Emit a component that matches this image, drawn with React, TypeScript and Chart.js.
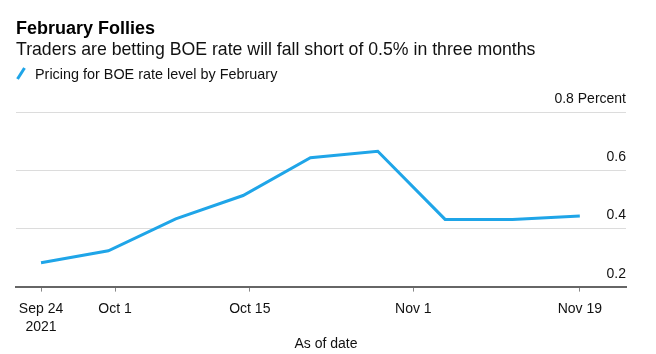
import React, { useEffect, useRef } from "react";
import { Chart, registerables } from "chart.js";

Chart.register(...registerables);

const titleText = "February Follies";
const subtitleText = "Traders are betting BOE rate will fall short of 0.5% in three months";
const legendText = "Pricing for BOE rate level by February";
const xAxisTitle = "As of date";

// days since Sep 24 2021 (weekly observations)
const dayOffsets = [0, 7, 14, 21, 28, 35, 42, 49, 56];
const pricing = [0.282, 0.323, 0.433, 0.513, 0.643, 0.665, 0.431, 0.431, 0.443];

// tick positions (days since Sep 24)
const xTickDays = [0, 7.7, 21.7, 38.7, 56];
const xTickLabels: (string | string[])[] = [["Sep 24", "2021"], "Oct 1", "Oct 15", "Nov 1", "Nov 19"];
const yTicks = [0.2, 0.4, 0.6, 0.8];
const yUnit = "Percent";

const FONT = "'Liberation Sans', Arial, sans-serif";
const LINE_COLOR = "#1fa5e8";

export default function App() {
  const ref = useRef<HTMLCanvasElement | null>(null);

  useEffect(() => {
    document.body.style.margin = "0";
    const canvas = ref.current;
    if (!canvas) return;

    const headerPlugin = {
      id: "header",
      afterDraw(chart: any) {
        const ctx = chart.ctx;
        ctx.save();
        ctx.textAlign = "left";
        ctx.textBaseline = "alphabetic";
        ctx.fillStyle = "#000";
        ctx.font = `bold 18px ${FONT}`;
        ctx.fillText(titleText, 16, 34);
        ctx.fillStyle = "#111";
        ctx.font = `17.7px ${FONT}`;
        ctx.fillText(subtitleText, 16, 55);
        ctx.font = `14.4px ${FONT}`;
        ctx.fillText(legendText, 35, 79);
        ctx.strokeStyle = LINE_COLOR;
        ctx.lineWidth = 3;
        ctx.lineCap = "butt";
        ctx.beginPath();
        ctx.moveTo(17.5, 79);
        ctx.lineTo(24.5, 68);
        ctx.stroke();

        // y labels above gridlines, right-aligned
        const y = chart.scales.y;
        const area = chart.chartArea;
        ctx.textAlign = "right";
        ctx.fillStyle = "#111";
        ctx.font = `14px ${FONT}`;
        yTicks.forEach((v, i) => {
          const py = y.getPixelForValue(v);
          const label = i === yTicks.length - 1 ? `${v.toFixed(1)} ${yUnit}` : v.toFixed(1);
          ctx.fillText(label, area.right, py - 9);
        });

        // x axis title
        ctx.textAlign = "center";
        ctx.textBaseline = "middle";
        ctx.fillText(xAxisTitle, 326, 344);
        ctx.restore();
      },
    };

    const chart = new Chart(canvas, {
      type: "line",
      data: {
        datasets: [
          {
            data: dayOffsets.map((d, i) => ({ x: d, y: pricing[i] })),
            borderColor: LINE_COLOR,
            borderWidth: 3,
            pointRadius: 0,
            tension: 0,
            fill: false,
          },
        ],
      },
      options: {
        animation: false,
        responsive: false,
        maintainAspectRatio: false,
        layout: { padding: { left: 16, right: 30, top: 112, bottom: 10 } },
        plugins: { legend: { display: false }, title: { display: false }, tooltip: { enabled: false } },
        scales: {
          x: {
            type: "linear",
            min: -2.6,
            max: 60.8,
            afterBuildTicks: (scale: any) => {
              scale.ticks = xTickDays.map((v) => ({ value: v }));
            },
            ticks: {
              autoSkip: false,
              maxRotation: 0,
              color: "#111",
              font: { family: FONT, size: 14, lineHeight: 1.3 },
              padding: 8,
              callback: (value: any) => {
                const idx = xTickDays.indexOf(Number(value));
                return idx >= 0 ? xTickLabels[idx] : "";
              },
            },
            grid: {
              drawOnChartArea: false,
              drawTicks: true,
              tickLength: 5,
              color: "#888",
              lineWidth: 1,
            },
            border: { display: true, color: "#666", width: 2 },
            title: { display: false },
          },
          y: {
            type: "linear",
            min: 0.2,
            max: 0.8,
            afterBuildTicks: (scale: any) => {
              scale.ticks = yTicks.map((v) => ({ value: v }));
            },
            ticks: { display: false },
            grid: { color: "#dcdcdc", lineWidth: 1, drawTicks: false },
            border: { display: false },
          },
        },
      },
      plugins: [headerPlugin],
    });

    return () => chart.destroy();
  }, []);

  return <canvas ref={ref} width={656} height={354} style={{ display: "block" }} />;
}
